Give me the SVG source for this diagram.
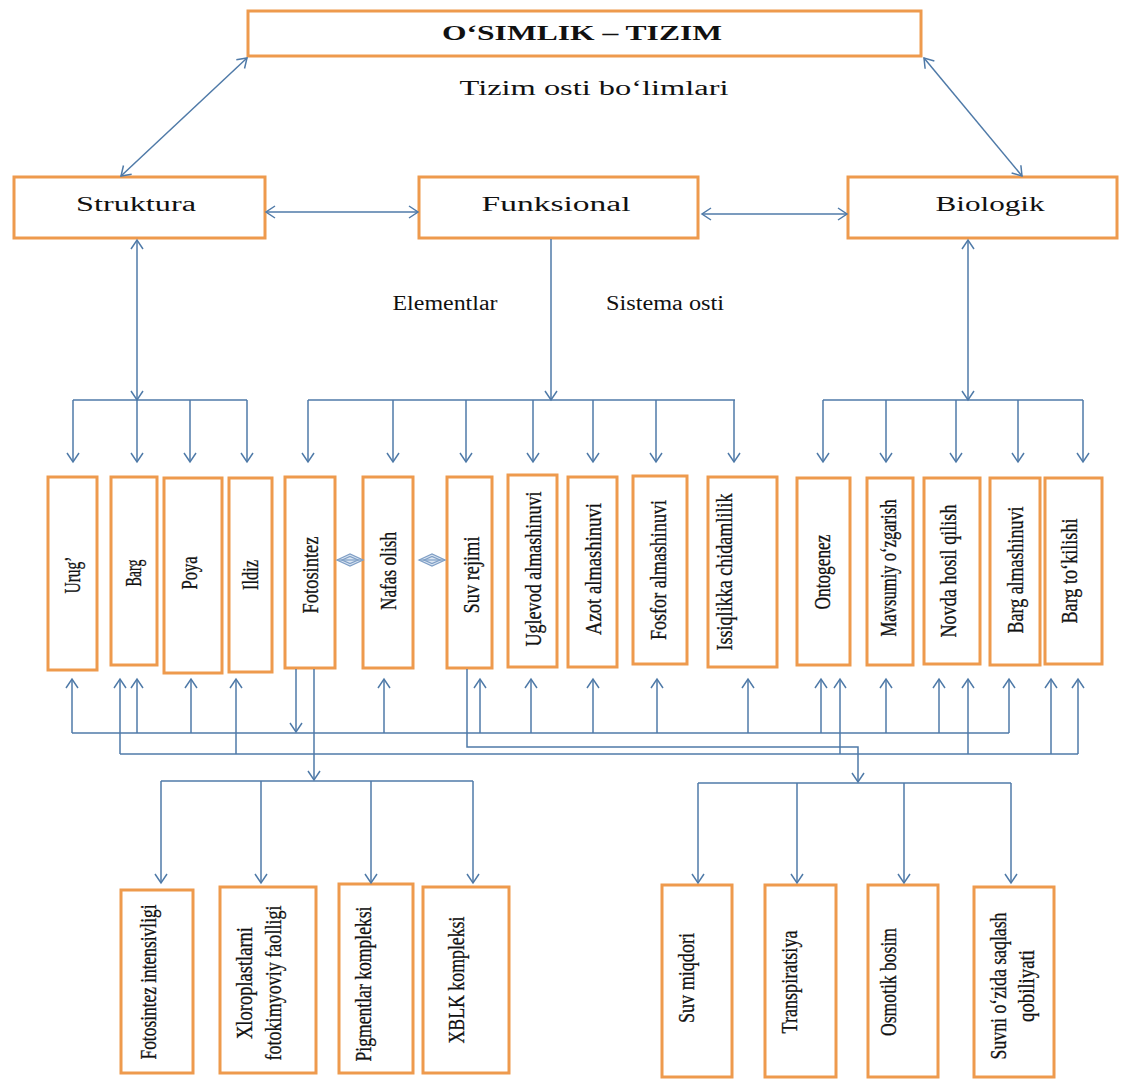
<svg xmlns="http://www.w3.org/2000/svg" width="1137" height="1080" viewBox="0 0 1137 1080">
<style>
.box{fill:#fff;stroke:#ee9a4d;stroke-width:3}
.c{fill:none;stroke:#4f7aa8;stroke-width:1.5}
.t{font-family:"Liberation Serif","Times New Roman",serif;fill:#111}
.h{font-size:20px;text-anchor:middle}
.v{font-size:23px;text-anchor:middle;dominant-baseline:central;stroke:#111;stroke-width:0.3}
.dia{fill:#dce6f2;stroke:#7f9fc6;stroke-width:1.3}
</style>
<defs>
<marker id="ah" markerWidth="14" markerHeight="14" refX="11" refY="7" orient="auto-start-reverse" markerUnits="userSpaceOnUse">
<path d="M2,1 L11,7 L2,13" fill="none" stroke="#4f7aa8" stroke-width="1.5"/>
</marker>
<g id="lens">
<path class="dia" d="M0,0 L13,-6 L26,0 L13,6 Z"/>
<path class="dia" d="M5,0 L13,-3.5 L21,0 L13,3.5 Z"/>
<path d="M0,0 L26,0" stroke="#7f9fc6" stroke-width="1.2"/>
</g>
</defs>
<rect width="1137" height="1080" fill="#fff"/>

<g id="n-top"><rect class="box" x="248" y="11" width="673" height="45"/>
<text class="t" x="582" y="40" font-size="22" font-weight="bold" text-anchor="middle" textLength="280" lengthAdjust="spacingAndGlyphs">O‘SIMLIK – TIZIM</text></g>
<text class="t h" x="594" y="95" font-size="21" textLength="269" lengthAdjust="spacingAndGlyphs">Tizim osti bo‘limlari</text>

<g id="n-struktura"><rect class="box" x="14" y="177" width="251" height="61"/>
<text class="t h" x="136" y="211" textLength="120" lengthAdjust="spacingAndGlyphs">Struktura</text></g>
<g id="n-funksional"><rect class="box" x="419" y="177" width="279" height="61"/>
<text class="t h" x="556" y="211" textLength="149" lengthAdjust="spacingAndGlyphs">Funksional</text></g>
<g id="n-biologik"><rect class="box" x="848" y="177" width="269" height="61"/>
<text class="t h" x="990" y="211" textLength="109" lengthAdjust="spacingAndGlyphs">Biologik</text></g>

<text class="t h" x="445" y="310" font-size="16" textLength="105" lengthAdjust="spacingAndGlyphs">Elementlar</text>
<text class="t h" x="665" y="310" font-size="16" textLength="118" lengthAdjust="spacingAndGlyphs">Sistema osti</text>

<g id="n-urug"><rect class="box" x="48" y="477" width="49" height="193"/>
<text class="t v" transform="translate(72,575) rotate(-90)" textLength="37" lengthAdjust="spacingAndGlyphs">Urug’</text></g>
<g id="n-barg"><rect class="box" x="111" y="477" width="46" height="188"/>
<text class="t v" transform="translate(133,573) rotate(-90)" textLength="27" lengthAdjust="spacingAndGlyphs">Barg</text></g>
<g id="n-poya"><rect class="box" x="164" y="478" width="58" height="195"/>
<text class="t v" transform="translate(189,573) rotate(-90)" textLength="33" lengthAdjust="spacingAndGlyphs">Poya</text></g>
<g id="n-ildiz"><rect class="box" x="229" y="478" width="43" height="194"/>
<text class="t v" transform="translate(250,575) rotate(-90)" textLength="30" lengthAdjust="spacingAndGlyphs">Ildiz</text></g>
<g id="n-fotosintez"><rect class="box" x="285" y="477" width="50" height="191"/>
<text class="t v" transform="translate(310,575) rotate(-90)" textLength="77" lengthAdjust="spacingAndGlyphs">Fotosintez</text></g>
<g id="n-nafas"><rect class="box" x="363" y="477" width="50" height="191"/>
<text class="t v" transform="translate(388,571) rotate(-90)" textLength="78" lengthAdjust="spacingAndGlyphs">Nafas olish</text></g>
<g id="n-suv"><rect class="box" x="447" y="477" width="45" height="191"/>
<text class="t v" transform="translate(471,575) rotate(-90)" textLength="77" lengthAdjust="spacingAndGlyphs">Suv rejimi</text></g>
<g id="n-uglevod"><rect class="box" x="508" y="475" width="49" height="192"/>
<text class="t v" transform="translate(533,569) rotate(-90)" textLength="155" lengthAdjust="spacingAndGlyphs">Uglevod almashinuvi</text></g>
<g id="n-azot"><rect class="box" x="568" y="477" width="49" height="190"/>
<text class="t v" transform="translate(593,569) rotate(-90)" textLength="132" lengthAdjust="spacingAndGlyphs">Azot almashinuvi</text></g>
<g id="n-fosfor"><rect class="box" x="633" y="476" width="54" height="188"/>
<text class="t v" transform="translate(658,570) rotate(-90)" textLength="140" lengthAdjust="spacingAndGlyphs">Fosfor almashinuvi</text></g>
<g id="n-issiq"><rect class="box" x="708" y="477" width="69" height="190"/>
<text class="t v" transform="translate(724,572) rotate(-90)" textLength="157" lengthAdjust="spacingAndGlyphs">Issiqlikka chidamlilik</text></g>
<g id="n-ontogenez"><rect class="box" x="797" y="478" width="53" height="187"/>
<text class="t v" transform="translate(822,572) rotate(-90)" textLength="75" lengthAdjust="spacingAndGlyphs">Ontogenez</text></g>
<g id="n-mavsumiy"><rect class="box" x="867" y="478" width="46" height="187"/>
<text class="t v" transform="translate(888,568) rotate(-90)" textLength="137" lengthAdjust="spacingAndGlyphs">Mavsumiy o‘zgarish</text></g>
<g id="n-novda"><rect class="box" x="924" y="478" width="56" height="186"/>
<text class="t v" transform="translate(948,571) rotate(-90)" textLength="133" lengthAdjust="spacingAndGlyphs">Novda hosil qilish</text></g>
<g id="n-bargalm"><rect class="box" x="990" y="478" width="50" height="187"/>
<text class="t v" transform="translate(1015,570) rotate(-90)" textLength="127" lengthAdjust="spacingAndGlyphs">Barg almashinuvi</text></g>
<g id="n-bargtok"><rect class="box" x="1045" y="478" width="57" height="186"/>
<text class="t v" transform="translate(1069,571) rotate(-90)" textLength="105" lengthAdjust="spacingAndGlyphs">Barg to‘kilishi</text></g>

<g id="n-fi"><rect class="box" x="121" y="890" width="72" height="183"/>
<text class="t v" transform="translate(148,982) rotate(-90)" textLength="155" lengthAdjust="spacingAndGlyphs">Fotosintez intensivligi</text></g>
<g id="n-xl"><rect class="box" x="220" y="887" width="96" height="186"/>
<text class="t v" transform="translate(244,983) rotate(-90)" textLength="112" lengthAdjust="spacingAndGlyphs">Xloroplastlarni</text>
<text class="t v" transform="translate(273,983) rotate(-90)" textLength="155" lengthAdjust="spacingAndGlyphs">fotokimyoviy faolligi</text></g>
<g id="n-pig"><rect class="box" x="339" y="884" width="74" height="189"/>
<text class="t v" transform="translate(363,984) rotate(-90)" textLength="155" lengthAdjust="spacingAndGlyphs">Pigmentlar kompleksi</text></g>
<g id="n-xblk"><rect class="box" x="423" y="887" width="86" height="186"/>
<text class="t v" transform="translate(456,980) rotate(-90)" textLength="127" lengthAdjust="spacingAndGlyphs">XBLK kompleksi</text></g>
<g id="n-suvm"><rect class="box" x="662" y="885" width="70" height="192"/>
<text class="t v" transform="translate(686,978) rotate(-90)" textLength="90" lengthAdjust="spacingAndGlyphs">Suv miqdori</text></g>
<g id="n-trans"><rect class="box" x="765" y="885" width="71" height="192"/>
<text class="t v" transform="translate(789,982) rotate(-90)" textLength="103" lengthAdjust="spacingAndGlyphs">Transpiratsiya</text></g>
<g id="n-osm"><rect class="box" x="868" y="885" width="70" height="192"/>
<text class="t v" transform="translate(888,982) rotate(-90)" textLength="108" lengthAdjust="spacingAndGlyphs">Osmotik bosim</text></g>
<g id="n-suvni"><rect class="box" x="974" y="887" width="80" height="190"/>
<text class="t v" transform="translate(998,986) rotate(-90)" textLength="147" lengthAdjust="spacingAndGlyphs">Suvni o‘zida saqlash</text>
<text class="t v" transform="translate(1026,986) rotate(-90)" textLength="72" lengthAdjust="spacingAndGlyphs">qobiliyati</text></g>

<g id="connectors" class="c">
<path class="c" d="M121,176 L247,58" marker-start="url(#ah)" marker-end="url(#ah)"/>
<path class="c" d="M924,58 L1022,176" marker-start="url(#ah)" marker-end="url(#ah)"/>
<path class="c" d="M266,212 L418,212" marker-start="url(#ah)" marker-end="url(#ah)"/>
<path class="c" d="M702,214 L847,214" marker-start="url(#ah)" marker-end="url(#ah)"/>

<path class="c" d="M137,400 L137,240" marker-start="url(#ah)" marker-end="url(#ah)"/>
<path class="c" d="M551,239 L551,400" marker-end="url(#ah)"/>
<path class="c" d="M968,400 L968,240" marker-start="url(#ah)" marker-end="url(#ah)"/>

<path class="c" d="M73,400 L247,400"/>
<path class="c" d="M308,400 L735,400"/>
<path class="c" d="M823,400 L1083,400"/>
<g marker-end="url(#ah)">
<path class="c" d="M73,400 L73,462"/><path class="c" d="M137,400 L137,462"/><path class="c" d="M190,400 L190,462"/><path class="c" d="M247,400 L247,462"/>
<path class="c" d="M308,400 L308,462"/><path class="c" d="M393,400 L393,462"/><path class="c" d="M466,400 L466,462"/><path class="c" d="M533,400 L533,462"/><path class="c" d="M593,400 L593,462"/><path class="c" d="M656,400 L656,462"/><path class="c" d="M734,400 L734,462"/>
<path class="c" d="M823,400 L823,462"/><path class="c" d="M886,400 L886,462"/><path class="c" d="M956,400 L956,462"/><path class="c" d="M1018,400 L1018,462"/><path class="c" d="M1083,400 L1083,462"/>
</g>

<use href="#lens" transform="translate(337,560)"/>
<use href="#lens" transform="translate(419,560)"/>

<path class="c" d="M72,733 L1009,733"/>
<path class="c" d="M120,754 L1078,754"/>
<g marker-end="url(#ah)">
<path class="c" d="M72,733 L72,679"/><path class="c" d="M137,733 L137,679"/><path class="c" d="M191,733 L191,679"/><path class="c" d="M384,733 L384,679"/><path class="c" d="M480,733 L480,679"/><path class="c" d="M531,733 L531,679"/><path class="c" d="M593,733 L593,679"/><path class="c" d="M657,733 L657,679"/><path class="c" d="M748,733 L748,679"/><path class="c" d="M821,733 L821,679"/><path class="c" d="M886,733 L886,679"/><path class="c" d="M939,733 L939,679"/><path class="c" d="M1009,733 L1009,679"/>
<path class="c" d="M120,754 L120,679"/><path class="c" d="M236,754 L236,679"/><path class="c" d="M840,754 L840,679"/><path class="c" d="M968,754 L968,679"/><path class="c" d="M1051,754 L1051,679"/><path class="c" d="M1078,754 L1078,679"/>
<path class="c" d="M296,669 L296,732"/>
<path class="c" d="M314,669 L314,780"/>
<path class="c" d="M467,669 L467,747 L858,747 L858,782"/>
</g>

<path class="c" d="M161,781 L473,781"/>
<path class="c" d="M698,783 L1011,783"/>
<g marker-end="url(#ah)">
<path class="c" d="M161,781 L161,883"/><path class="c" d="M261,781 L261,883"/><path class="c" d="M371,781 L371,883"/><path class="c" d="M473,781 L473,883"/>
<path class="c" d="M698,783 L698,883"/><path class="c" d="M797,783 L797,883"/><path class="c" d="M904,783 L904,883"/><path class="c" d="M1011,783 L1011,883"/>
</g>
</g>
</svg>
